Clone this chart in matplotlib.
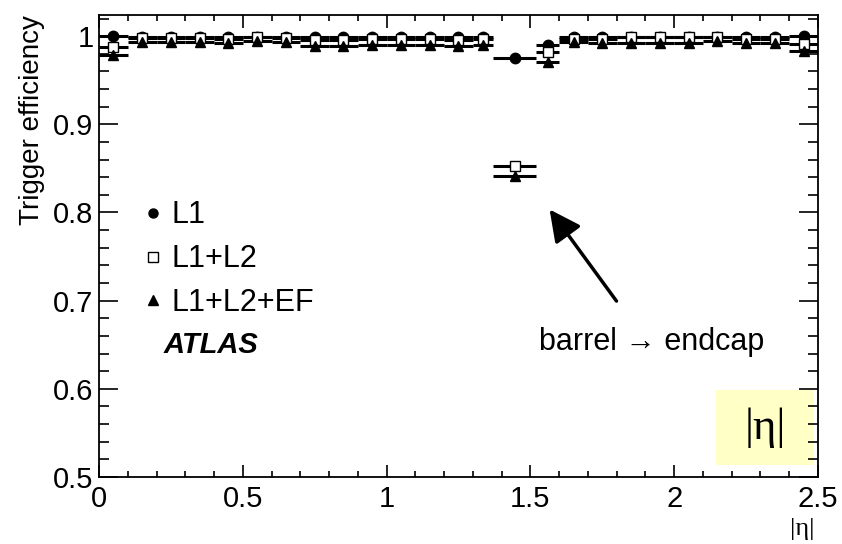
import numpy as np
import matplotlib as mpl
mpl.use('Agg')
import matplotlib.pyplot as plt
from matplotlib.lines import Line2D
from matplotlib.patches import Rectangle
from matplotlib.ticker import MultipleLocator

# |eta| bin edges (crack region split into its own bins)
edges = [0.0, 0.1, 0.2, 0.3, 0.4, 0.5, 0.6, 0.7, 0.8, 0.9, 1.0, 1.1, 1.2, 1.3,
         1.37, 1.52, 1.6, 1.7, 1.8, 1.9, 2.0, 2.1, 2.2, 2.3, 2.4, 2.5]

eff_l1 = [1.000, 0.999, 0.999, 0.999, 0.999, 0.999, 0.999, 0.999, 0.999, 0.999,
          0.999, 0.999, 0.999, 0.999, 0.975, 0.990, 0.999, 0.999, 0.999, 0.999,
          0.999, 0.999, 0.999, 0.999, 1.000]
eff_l2 = [0.988, 0.998, 0.998, 0.998, 0.997, 0.999, 0.998, 0.996, 0.996, 0.997,
          0.997, 0.997, 0.996, 0.997, 0.853, 0.982, 0.997, 0.997, 0.999, 0.999,
          0.999, 0.999, 0.997, 0.997, 0.991]
eff_ef = [0.979, 0.993, 0.993, 0.993, 0.992, 0.994, 0.993, 0.989, 0.989, 0.990,
          0.990, 0.990, 0.989, 0.990, 0.841, 0.971, 0.993, 0.992, 0.992, 0.992,
          0.992, 0.994, 0.992, 0.992, 0.983]
eff_err = 0.001

series = [("L1", eff_l1, "o", "black"),
          ("L1+L2", eff_l2, "s", "white"),
          ("L1+L2+EF", eff_ef, "^", "black")]

edges = np.array(edges)
centers = 0.5 * (edges[1:] + edges[:-1])
half_w = 0.5 * (edges[1:] - edges[:-1])

plt.rcParams['font.family'] = ['Liberation Sans', 'DejaVu Sans']

fig = plt.figure(figsize=(8.42, 5.44), dpi=100)
ax = fig.add_axes([99 / 842, 1 - 477 / 544, (818 - 99) / 842, (477 - 15) / 544])

handles = []
for label, vals, mk, fc in series:
    ax.errorbar(centers, vals, xerr=half_w, yerr=eff_err, fmt=mk, color="black",
                mfc=fc, mec="black", ms=7.5, mew=1.0, elinewidth=2.2, capsize=0,
                zorder=3)
    handles.append(Line2D([], [], ls="none", marker=mk, mfc=fc, mec="black",
                          color="black", ms=6.5, mew=1.0))

ax.set_xlim(0, 2.5)
ax.set_ylim(0.5, 1.024)
ax.xaxis.set_minor_locator(MultipleLocator(0.1))
ax.yaxis.set_minor_locator(MultipleLocator(0.02))
ax.set_xticks([0, 0.5, 1, 1.5, 2, 2.5], ["0", "0.5", "1", "1.5", "2", "2.5"])
ax.set_yticks([0.5, 0.6, 0.7, 0.8, 0.9, 1.0], ["0.5", "0.6", "0.7", "0.8", "0.9", "1"])

ax.tick_params(axis="both", which="both", direction="in", top=True, right=True,
               labelsize=21, width=1.2)
ax.tick_params(axis="x", which="major", length=9, pad=6)
ax.tick_params(axis="x", which="minor", length=4.5)
ax.tick_params(axis="y", which="major", length=14, pad=4)
ax.tick_params(axis="y", which="minor", length=7)
for sp in ax.spines.values():
    sp.set_linewidth(1.3)

ax.set_ylabel("Trigger efficiency", fontsize=20, loc="top", labelpad=6)
ax.text(0.995, -0.088, "|η|", transform=ax.transAxes, ha="right", va="top",
        fontsize=19, family=["Liberation Serif", "DejaVu Serif"])

ax.legend(handles, [s[0] for s in series], loc="upper left",
          bbox_to_anchor=(0.045, 0.625), frameon=False, fontsize=22,
          handlelength=0.6, handletextpad=0.3, labelspacing=0.45,
          borderaxespad=0)

ax.text(0.09, 0.285, "ATLAS", transform=ax.transAxes, fontsize=21,
        fontweight="bold", fontstyle="italic", va="center")

ax.annotate("", xy=(1.561, 0.806), xytext=(1.805, 0.697),
            arrowprops=dict(arrowstyle="-|>", color="black", lw=2.5,
                            mutation_scale=48))
ax.text(1.92, 0.653, "barrel → endcap", fontsize=22, ha="center", va="center")

ax.add_patch(Rectangle((2.147, 0.5136), 0.338, 0.085, fc="#ffffc6", ec="none",
                       zorder=1))
ax.text(2.316, 0.556, "|η|", fontsize=32, ha="center", va="center",
        family=["Liberation Serif", "DejaVu Serif"], zorder=2)

fig.savefig("out.png", dpi=100)
